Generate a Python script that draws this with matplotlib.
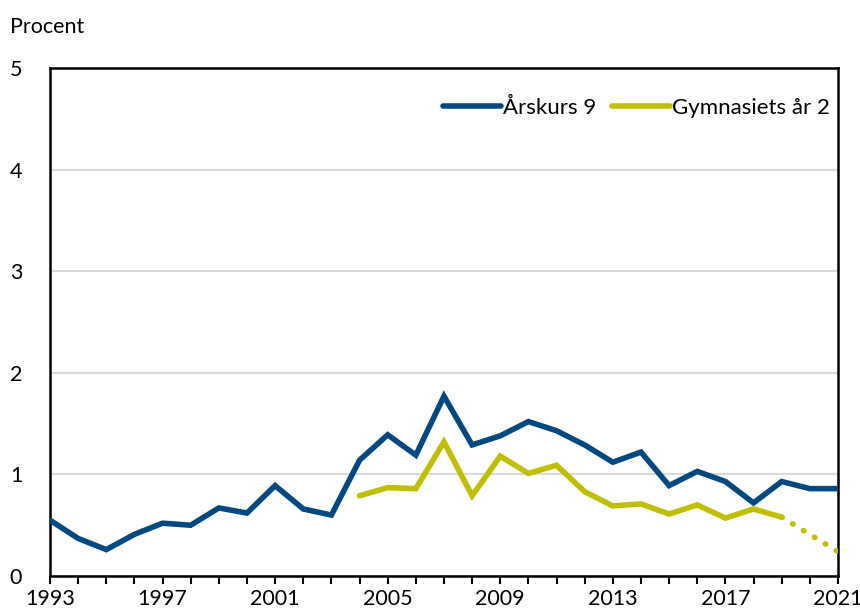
import matplotlib
matplotlib.use("Agg")
import matplotlib.pyplot as plt

ar = list(range(1993, 2022))
arskurs9 = [0.55, 0.37, 0.26, 0.41, 0.52, 0.50, 0.67, 0.62, 0.89, 0.66, 0.60,
            1.14, 1.39, 1.19, 1.77, 1.29, 1.38, 1.52, 1.43, 1.29, 1.12, 1.22,
            0.89, 1.03, 0.93, 0.72, 0.93, 0.86, 0.86]
gy_ar = list(range(2004, 2020))
gymnasiet = [0.79, 0.87, 0.86, 1.32, 0.79, 1.18, 1.01, 1.09, 0.83, 0.69, 0.71,
             0.61, 0.70, 0.57, 0.66, 0.58]
prognos_ar = [2019, 2021]
prognos = [0.58, 0.24]

blue = "#00487f"
yellow = "#bfbf00"

plt.rcParams["font.family"] = ["Lato", "DejaVu Sans"]

fig = plt.figure(figsize=(8.6, 6.16), dpi=100)
ax = fig.add_axes([0.0581, 0.0649, 0.9163, 0.8247])

ax.plot(ar, arskurs9, color=blue, lw=4, solid_capstyle="round",
        solid_joinstyle="miter", label="Årskurs 9", zorder=3)
ax.plot(gy_ar, gymnasiet, color=yellow, lw=4, solid_capstyle="round",
        solid_joinstyle="miter", label="Gymnasiets år 2", zorder=3)
ax.plot(prognos_ar, prognos, color=yellow, lw=4, linestyle=(0, (0.1, 2.2)),
        dash_capstyle="round", zorder=3)

ax.set_xlim(1993, 2021)
ax.set_ylim(0, 5)
ax.set_yticks(range(0, 6))
ax.set_xticks(ar, minor=True)
ax.set_xticks(range(1993, 2022, 4))
ax.tick_params(axis="y", length=0, pad=20, labelsize=15.5)
ax.tick_params(axis="x", which="both", length=6, width=1.5, direction="out",
               labelsize=15.5, pad=3)
ax.grid(axis="y", color="#d9d9d9", lw=1.5)
ax.set_axisbelow(True)
for s in ax.spines.values():
    s.set_linewidth(1.8)
    s.set_color("black")

fig.text(0.012, 0.94, "Procent", fontsize=15.5, ha="left", va="bottom")

leg = ax.legend(loc="upper right", ncol=2, frameon=False, fontsize=16,
                handlelength=2.6, handletextpad=0.1, columnspacing=0.7,
                borderaxespad=0.2, bbox_to_anchor=(1.007, 0.968))

fig.savefig("out.png", dpi=100)
